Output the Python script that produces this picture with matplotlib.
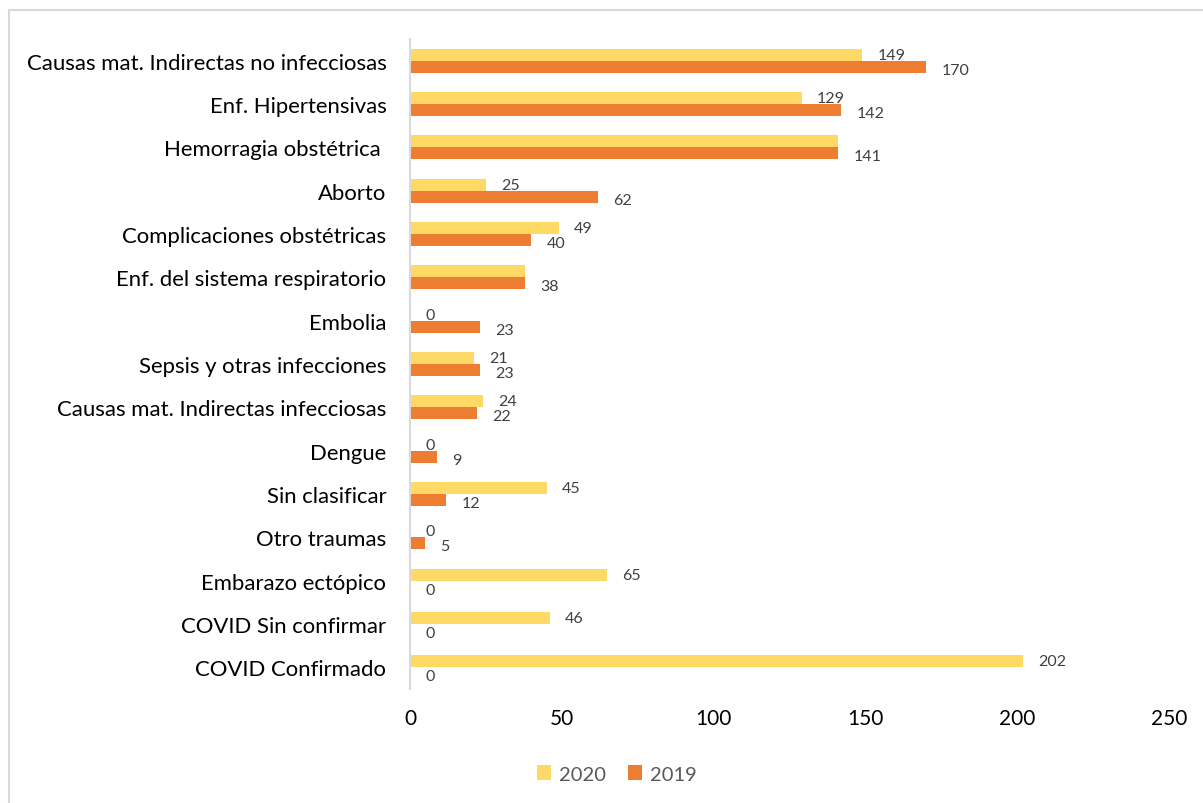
import matplotlib.pyplot as plt
from matplotlib import patches
import numpy as np

# Causes of maternal death, top to bottom as shown
categorias = ["Causas mat. Indirectas no infecciosas", "Enf. Hipertensivas",
              "Hemorragia obstétrica ", "Aborto", "Complicaciones obstétricas",
              "Enf. del sistema respiratorio", "Embolia", "Sepsis y otras infecciones",
              "Causas mat. Indirectas infecciosas", "Dengue", "Sin clasificar",
              "Otro traumas", "Embarazo ectópico", "COVID Sin confirmar",
              "COVID Confirmado"]
casos_2020 = [149, 129, 141, 25, 49, 38, 0, 21, 24, 0, 45, 0, 65, 46, 202]
casos_2019 = [170, 142, 141, 62, 40, 38, 23, 23, 22, 9, 12, 5, 0, 0, 0]
# 2020 labels that Excel hid behind overlapping ones
ocultar_2020 = [2, 5]

col_2020 = "#FFD966"
col_2019 = "#ED7D31"

plt.rcParams['font.family'] = ['Lato', 'DejaVu Sans']

fig = plt.figure(figsize=(12.03, 8.04), dpi=100)
ax = fig.add_axes([410/1203, 1 - 690/804, 759/1203, 650/804])

y = np.arange(len(categorias))
h = 0.28
ax.barh(y - h/2, casos_2020, height=h, color=col_2020, label="2020")
ax.barh(y + h/2, casos_2019, height=h, color=col_2019, label="2019")

# data labels
for i in range(len(categorias)):
    if i not in ocultar_2020:
        ax.annotate(str(casos_2020[i]), (casos_2020[i], y[i] - h/2),
                    xytext=(11, 0), textcoords="offset points",
                    ha="left", va="center", fontsize=11.5, color="#404040")
    ax.annotate(str(casos_2019[i]), (casos_2019[i], y[i] + h/2),
                xytext=(11, -2), textcoords="offset points",
                ha="left", va="center", fontsize=11.5, color="#404040")

ax.set_ylim(len(categorias) - 0.5, -0.5)
ax.set_xlim(0, 250)
ax.set_yticks(y)
ax.set_yticklabels(categorias, fontsize=15.9, color="#000000")
ax.set_xticks([0, 50, 100, 150, 200, 250])
ax.tick_params(axis="y", length=0, pad=17)
ax.tick_params(axis="x", length=0, pad=14, labelsize=15)

for s in ["top", "right", "bottom"]:
    ax.spines[s].set_visible(False)
ax.spines["left"].set_color("#D9D9D9")
ax.spines["left"].set_linewidth(1.5)

fig.legend(loc="center", bbox_to_anchor=(617/1203, 1 - 775/804), ncol=2,
           frameon=False, fontsize=14.5, labelcolor="#595959",
           handlelength=0.7, handleheight=0.7, handletextpad=0.4,
           columnspacing=1.1)

# outer chart frame
fig.patches.append(patches.Rectangle((8.5/1203, -0.1), 1.2, 1 - 10.5/804 + 0.1,
                                     transform=fig.transFigure, fill=False,
                                     edgecolor="#D9D9D9", linewidth=1.5))

fig.savefig("out.png", dpi=100)
